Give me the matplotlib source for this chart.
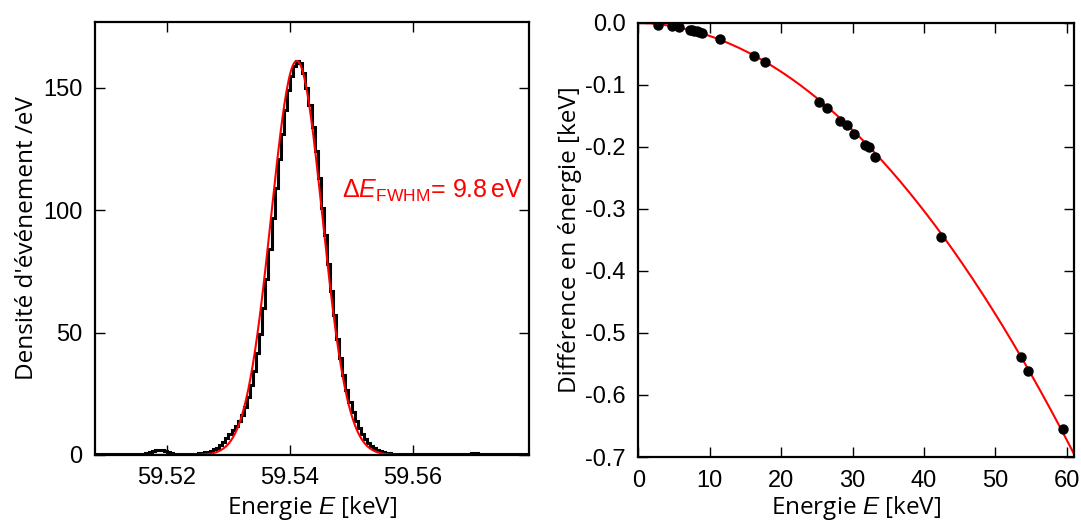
import numpy as np
import matplotlib
matplotlib.use("Agg")
import matplotlib.pyplot as plt
from matplotlib.ticker import FormatStrFormatter

plt.rcParams['font.family'] = ['Liberation Sans', 'DejaVu Sans']
plt.rcParams['axes.unicode_minus'] = False
plt.rcParams['mathtext.fontset'] = 'custom'
plt.rcParams['mathtext.rm'] = 'Liberation Sans'
plt.rcParams['mathtext.it'] = 'Liberation Sans:italic'

# --- left panel: histogram of the 59.54 keV line (0.5 eV bins) ---
bin_start = 59.508
bin_width = 0.0005
counts = [
    0.2, 0.2, 0.2, 0.2, 0.2, 0.2, 0.2, 0.2, 0.2, 0.2,
    0.4, 0.4, 0.4, 0.4, 0.4, 0.4, 0.6, 0.9, 1.3, 1.7,
    2.0, 2.1, 2.0, 1.7, 1.3, 0.9, 0.6, 0.4, 0.3, 0.3,
    0.3, 0.4, 0.5, 0.6, 0.7, 0.9, 1.1, 1.4, 1.8, 2.4,
    3.0, 4.0, 5.2, 6.8, 8.5, 10.2, 12.0, 14.0, 16.5, 19.5,
    23.5, 28.5, 34.5, 41.5, 49.5, 60.0, 72.0, 84.0, 97.0, 109.0,
    121.0, 131.0, 141.0, 149.0, 155.0, 159.0, 161.0, 160.0, 156.0, 150.0,
    143.0, 134.0, 124.0, 113.0, 101.0, 90.0, 78.0, 67.0, 57.0, 47.5,
    39.5, 32.5, 26.5, 21.5, 17.5, 14.0, 11.0, 8.5, 6.5, 5.0,
    3.8, 2.8, 2.1, 1.6, 1.2, 0.9, 0.7, 0.5, 0.4, 0.4,
    0.4, 0.3, 0.3, 0.3, 0.3, 0.3, 0.3, 0.2, 0.2, 0.2,
    0.2, 0.2, 0.2, 0.2, 0.2, 0.2, 0.2, 0.2, 0.2, 0.2,
    0.3, 0.4, 0.6, 0.9, 0.9, 0.6, 0.4, 0.3, 0.2, 0.2,
    0.2, 0.2, 0.2, 0.2, 0.2, 0.2, 0.2, 0.2, 0.2, 0.2,
    0.2, 0.2,
]
# Gaussian fit parameters (keV)
fit_amp = 161.0
fit_center = 59.5411
fit_fwhm = 0.0098
left_xticks = [59.52, 59.54, 59.56]
left_yticks = [0, 50, 100, 150]

# --- right panel: energy difference vs energy ---
energy = [2.8, 4.7, 5.7, 7.2, 7.5, 7.8, 8.2, 8.5, 8.9, 11.4,
          16.2, 17.7, 25.3, 26.4, 28.2, 29.2, 30.2, 31.8, 32.3, 33.2,
          42.4, 53.6, 54.6, 59.5]
diff = [-0.004, -0.005, -0.007, -0.011, -0.012, -0.013, -0.014, -0.015, -0.016, -0.027,
        -0.053, -0.063, -0.127, -0.138, -0.158, -0.165, -0.179, -0.197, -0.201, -0.216,
        -0.346, -0.539, -0.561, -0.655]
# quadratic fit through origin: a*E + b*E^2
fit_a = -0.000322
fit_b = -0.0001815
right_xticks = [0, 10, 20, 30, 40, 50, 60]
right_yticks = [0.0, -0.1, -0.2, -0.3, -0.4, -0.5, -0.6, -0.7]

RED = '#ff0000'
LABEL_FONT = ['Open Sans', 'DejaVu Sans']


def style_axes(ax):
    for s in ax.spines.values():
        s.set_linewidth(1.6)
    ax.tick_params(direction='in', length=7, width=1.0, top=True, right=True,
                   labelsize=17, pad=9)


fig = plt.figure(figsize=(10.81, 5.21), dpi=100)
ax1 = fig.add_axes([0.0879, 0.1267, 0.4017, 0.8316])
ax2 = fig.add_axes([0.5905, 0.1228, 0.4030, 0.8336])

# left histogram
edges = bin_start + bin_width * np.arange(len(counts) + 1)
ax1.stairs(counts, edges, color='black', linewidth=2.2)
xf = np.linspace(59.508, 59.579, 800)
sigma = fit_fwhm / (2 * np.sqrt(2 * np.log(2)))
ax1.plot(xf, fit_amp * np.exp(-(xf - fit_center) ** 2 / (2 * sigma ** 2)),
         color=RED, linewidth=1.5)
ax1.set_xlim(59.5083, 59.5789)
ax1.set_ylim(0, 177)
ax1.set_xticks(left_xticks)
ax1.set_yticks(left_yticks)
ax1.xaxis.set_major_formatter(FormatStrFormatter('%.2f'))
style_axes(ax1)
ax1.set_xlabel('Energie $E$ [keV]', fontsize=17.5, family=LABEL_FONT, labelpad=3)
ax1.set_ylabel("Densité d'événement /eV", fontsize=17.5, family=LABEL_FONT, labelpad=3)
ax1.text(59.5484, 108, r'$\Delta E_{\rm FWHM}$= 9.8$\,$eV', color=RED,
         fontsize=18, va='center', ha='left')

# right panel
ef = np.linspace(0, 62, 400)
ax2.plot(ef, fit_a * ef + fit_b * ef ** 2, color=RED, linewidth=1.5)
ax2.plot(energy, diff, 'o', color='black', markersize=6.5)
ax2.set_xlim(0, 61)
ax2.set_ylim(-0.7, 0)
ax2.set_xticks(right_xticks)
ax2.set_yticks(right_yticks)
ax2.yaxis.set_major_formatter(FormatStrFormatter('%.1f'))
style_axes(ax2)
ax2.set_xlabel('Energie $E$ [keV]', fontsize=17.5, family=LABEL_FONT, labelpad=2)
ax2.set_ylabel('Différence en énergie [keV]', fontsize=17.5, family=LABEL_FONT, labelpad=2)

fig.savefig('out.png', dpi=100)
